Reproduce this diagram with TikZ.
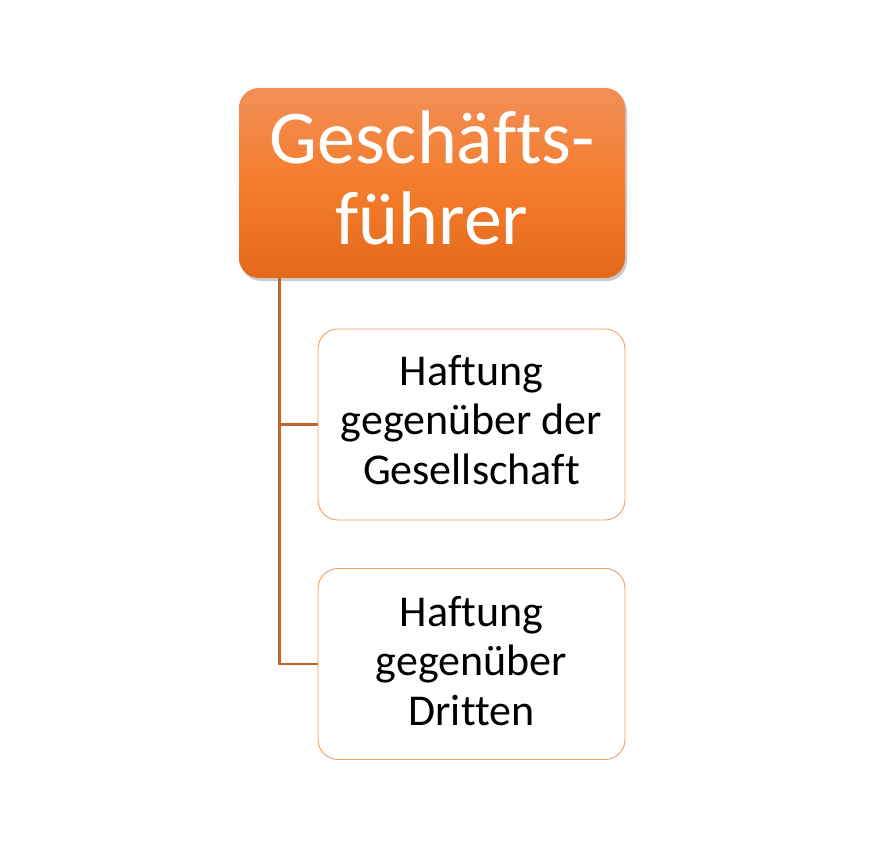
\documentclass[tikz,border=0pt]{standalone}
\usepackage{fontspec}
\setmainfont[Ligatures=NoCommon]{Carlito}
\usetikzlibrary{shadows}
\definecolor{orTop}{HTML}{F28F57}
\definecolor{orMid}{HTML}{F47D2C}
\definecolor{orBot}{HTML}{E4691A}
\definecolor{lineC}{HTML}{C5652C}
\definecolor{bordC}{HTML}{F29C63}
\tikzset{
  x=1pt,y=1pt,
  headbox/.style={rounded corners=20pt, minimum width=386pt, minimum height=190pt,
    inner sep=0pt, top color=orTop, bottom color=orBot, middle color=orMid,
    drop shadow={shadow xshift=2pt, shadow yshift=-3pt, opacity=0.35, fill=black!60}},
  headtext/.style={inner sep=0pt, text=white, align=center, font=\fontsize{76}{81}\selectfont},
  childbox/.style={rounded corners=20pt, minimum width=307pt, minimum height=191pt,
    inner sep=0pt, draw=bordC, line width=0.9pt, fill=white},
  childtext/.style={inner sep=0pt, text=black, align=center, font=\fontsize{44}{49.5}\selectfont},
  conn/.style={draw=lineC, line width=2.5pt}
}
\begin{document}
\begin{tikzpicture}
\useasboundingbox (0,0) rectangle (878,850);
\node[headbox] (top) at (432,667) {};
\node[headtext] (topt) at (432,672.5) {Geschäfts-\\führer};
\node[childbox] (c1) at (471.5,425.5) {};
\node[childtext] (c1t) at (471.5,430) {Haftung\\gegenüber der\\Gesellschaft};
\node[childbox] (c2) at (471.5,186) {};
\node[childtext] (c2t) at (471.5,189) {Haftung\\gegenüber\\Dritten};
\coordinate (v) at (279.5,572);
\draw[conn] (top.south -| v) |- (c1.west);
\draw[conn] (top.south -| v) |- (c2.west);
\end{tikzpicture}
\end{document}
